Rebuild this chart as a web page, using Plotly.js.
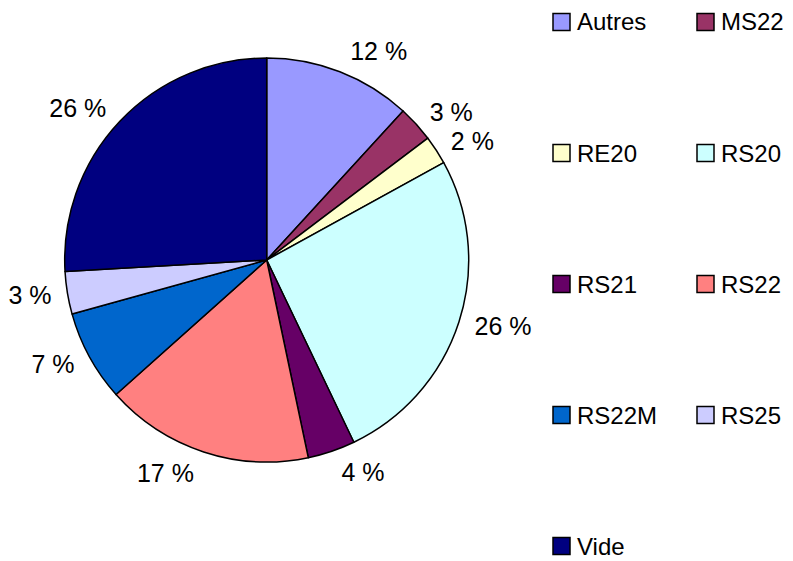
<!DOCTYPE html>
<html>
<head>
<meta charset="utf-8">
<script src="https://cdn.plot.ly/plotly-3.0.1.min.js"></script>
<style>html,body{margin:0;padding:0;background:#fff}#chart{width:793px;height:561px}</style>
</head>
<body>
<div id="chart"></div>
<script>
const categories = ["Autres", "MS22", "RE20", "RS20", "RS21", "RS22", "RS22M", "RS25", "Vide"];
const values = [11.8, 2.9, 2.3, 25.9, 3.8, 16.7, 7.3, 3.4, 25.9];
const colors = ["#9999FF", "#993366", "#FFFFCC", "#CCFFFF", "#660066", "#FF8080", "#0066CC", "#CCCCFF", "#000080"];

const total = values.reduce((a, b) => a + b, 0);
const pctText = values.map(v => Math.round(v / total * 100) + " %");
const FONT = "Liberation Sans, Arial, sans-serif";

const W = 793, H = 561;
const cx = 266.7, cy = 260, r = 202, rLab = 211;

function dom(rad) {
  return { x: [(cx - rad) / W, (cx + rad) / W], y: [(H - cy - rad) / H, (H - cy + rad) / H] };
}

const pieTrace = {
  type: "pie",
  labels: categories,
  values: values,
  textinfo: "none",
  sort: false,
  direction: "clockwise",
  rotation: 0,
  marker: { colors: colors, line: { color: "#000", width: 1.5 } },
  domain: dom(r),
  showlegend: false,
  hoverinfo: "label+percent"
};

// Same slices, invisible, slightly larger: carries the outside percentage labels
const labelTrace = {
  type: "pie",
  labels: categories,
  values: values,
  text: pctText,
  textinfo: "text",
  textposition: "outside",
  sort: false,
  direction: "clockwise",
  rotation: 0,
  marker: { colors: categories.map(() => "rgba(0,0,0,0)"), line: { width: 0 } },
  outsidetextfont: { family: FONT, size: 25, color: "#000" },
  domain: dom(rLab),
  showlegend: false,
  hoverinfo: "skip"
};

// Manual legend: 2 columns, rows spaced like the reference
const shapes = [], annotations = [];
const colX = [553, 697], rowY0 = 22, rowDY = 131, box = 17;
categories.forEach((c, i) => {
  const col = i % 2, row = Math.floor(i / 2);
  const x0 = colX[col], yc = rowY0 + row * rowDY;
  shapes.push({
    type: "rect", xref: "paper", yref: "paper",
    x0: x0 / W, x1: (x0 + box) / W,
    y0: 1 - (yc + box / 2) / H, y1: 1 - (yc - box / 2) / H,
    fillcolor: colors[i], line: { color: "#000", width: 1.5 }
  });
  annotations.push({
    xref: "paper", yref: "paper", x: (x0 + box + 5) / W, y: 1 - yc / H,
    xanchor: "left", yanchor: "middle", showarrow: false, text: c,
    font: { family: FONT, size: 24, color: "#000" }
  });
});

const layout = {
  width: W, height: H,
  margin: { l: 0, r: 0, t: 0, b: 0 },
  paper_bgcolor: "#fff",
  showlegend: false,
  shapes: shapes,
  annotations: annotations
};

Plotly.newPlot("chart", [labelTrace, pieTrace], layout, { displayModeBar: false, staticPlot: true });
</script>
</body>
</html>
